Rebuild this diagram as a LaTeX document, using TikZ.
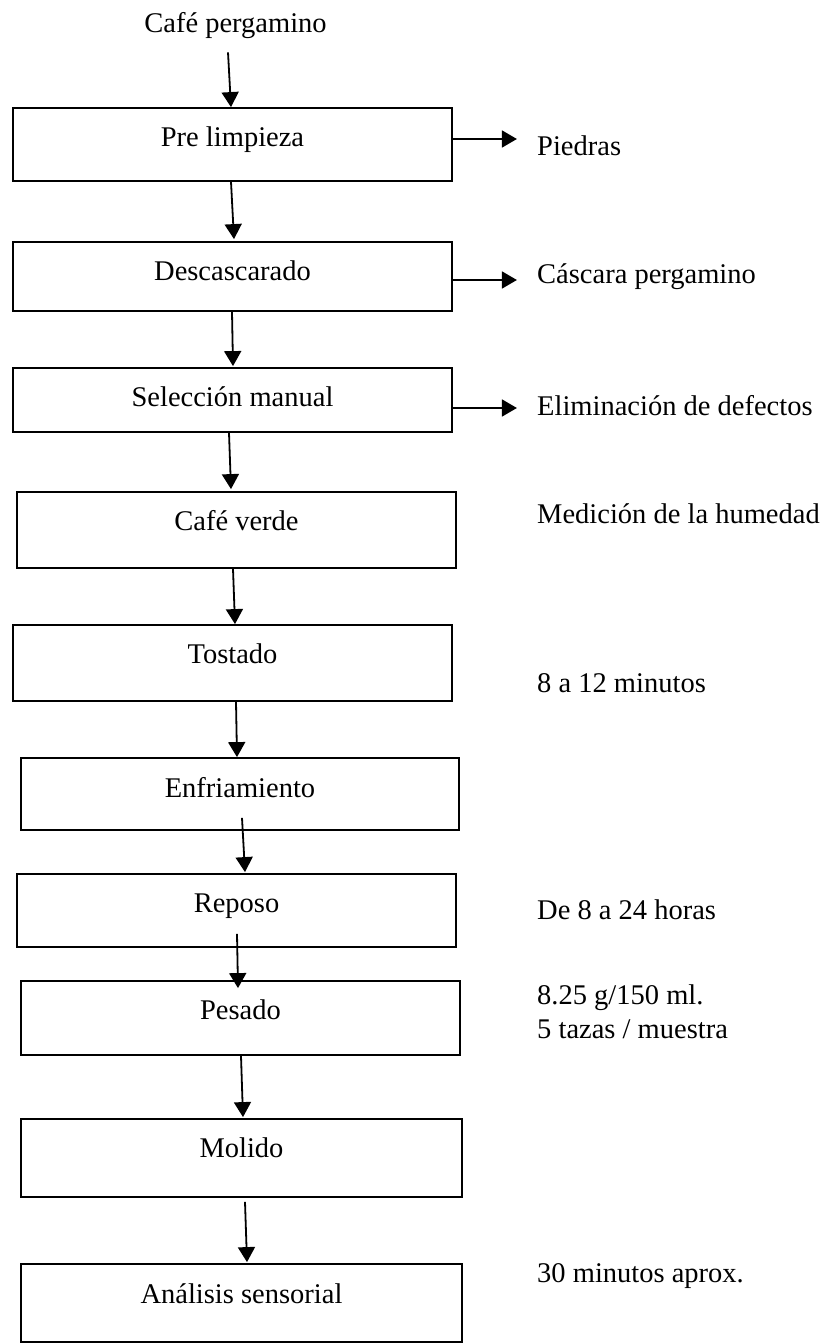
\documentclass[tikz,border=0pt]{standalone}
\usepackage{fontspec}
\setmainfont{Liberation Serif}
\usetikzlibrary{arrows.meta}
\begin{document}
\begin{tikzpicture}[x=1pt,y=-1pt,
  font=\fontsize{28.5pt}{34pt}\selectfont,
  stepbox/.style={draw, line width=1.8pt, minimum width=439pt, inner sep=0pt,
    text height=10pt, text depth=10pt},
  note/.style={anchor=base west, inner sep=0pt, align=left},
  arr/.style={line width=1.8pt, -{Triangle[length=15pt,width=17pt]}}
]
\useasboundingbox (0,0) rectangle (835,1343);
\fill[white] (0,0) rectangle (835,1343);

\node[inner sep=0pt, anchor=base] (start) at (235.5,33) {Café pergamino};

\node[stepbox, minimum height=73pt, text height=15pt] (b1) at (232.5,144.5) {Pre limpieza};
\node[stepbox, minimum height=69pt, text height=17pt] (b2) at (232.5,276.5) {Descascarado};
\node[stepbox, minimum height=64pt, text height=23pt] (b3) at (232.5,400) {Selección manual};
\node[stepbox, minimum height=76pt] (b4) at (236.5,530) {Café verde};
\node[stepbox, minimum height=76pt] (b5) at (232.5,663) {Tostado};
\node[stepbox, minimum height=72pt, minimum width=438pt, text height=16pt] (b6) at (240,794) {Enfriamiento};
\node[stepbox, minimum height=73pt, text height=14pt] (b7) at (236.5,910.5) {Reposo};
\node[stepbox, minimum height=74pt, text height=12pt] (b8) at (240.5,1018) {Pesado};
\node[stepbox, minimum height=78pt, minimum width=441pt, text height=8pt] (b9) at (241.5,1158) {Molido};
\node[stepbox, minimum height=78pt, minimum width=441pt] (b10) at (241.5,1303) {Análisis sensorial};

\node[note] (p1) at (537,156) {Piedras};
\node[note] (p2) at (537,283) {Cáscara pergamino};
\node[note] (p3) at (537,415) {Eliminación de defectos};
\node[note] (p4) at (537,523) {Medición de la humedad};
\node[note] (p5) at (537,692.5) {8 a 12 minutos};
\node[note] (p7) at (537,919) {De 8 a 24 horas};
\node[note] (p8) at (537,1038) {8.25 g/150 ml.\\5 tazas / muestra};
\node[note] (p10) at (537,1282) {30 minutos aprox.};

\draw[arr] ([xshift=-7.5pt,yshift=-13pt]start.south) -- ([xshift=-1.5pt]b1.north);
\draw[arr] ([xshift=-1.5pt]b1.south) -- ([xshift=1.5pt,yshift=2pt]b2.north);
\draw[arr] ([xshift=-0.5pt]b2.south) -- ([xshift=0.5pt,yshift=1pt]b3.north);
\draw[arr] ([xshift=-3.5pt]b3.south) -- ([xshift=-5.5pt,yshift=2pt]b4.north);
\draw[arr] ([xshift=-3.5pt]b4.south) -- ([xshift=2.5pt]b5.north);
\draw[arr] ([xshift=3.5pt]b5.south) -- ([xshift=-3pt]b6.north);
\draw[arr] ([xshift=2pt,yshift=13pt]b6.south) -- ([xshift=8.5pt,yshift=1pt]b7.north);
\draw[arr] ([xshift=0.5pt,yshift=14pt]b7.south) -- ([xshift=-2.5pt,yshift=-8pt]b8.north);
\draw[arr] ([xshift=0.5pt]b8.south) -- ([xshift=1.5pt,yshift=1pt]b9.north);
\draw[arr] ([xshift=3.5pt,yshift=-4pt]b9.south) -- ([xshift=5.5pt,yshift=1pt]b10.north);

\draw[arr] ([yshift=5.5pt]b1.east) -- ++(64,0);
\draw[arr] ([yshift=-3.5pt]b2.east) -- ++(64,0);
\draw[arr] ([yshift=-8pt]b3.east) -- ++(64,0);
\end{tikzpicture}
\end{document}
